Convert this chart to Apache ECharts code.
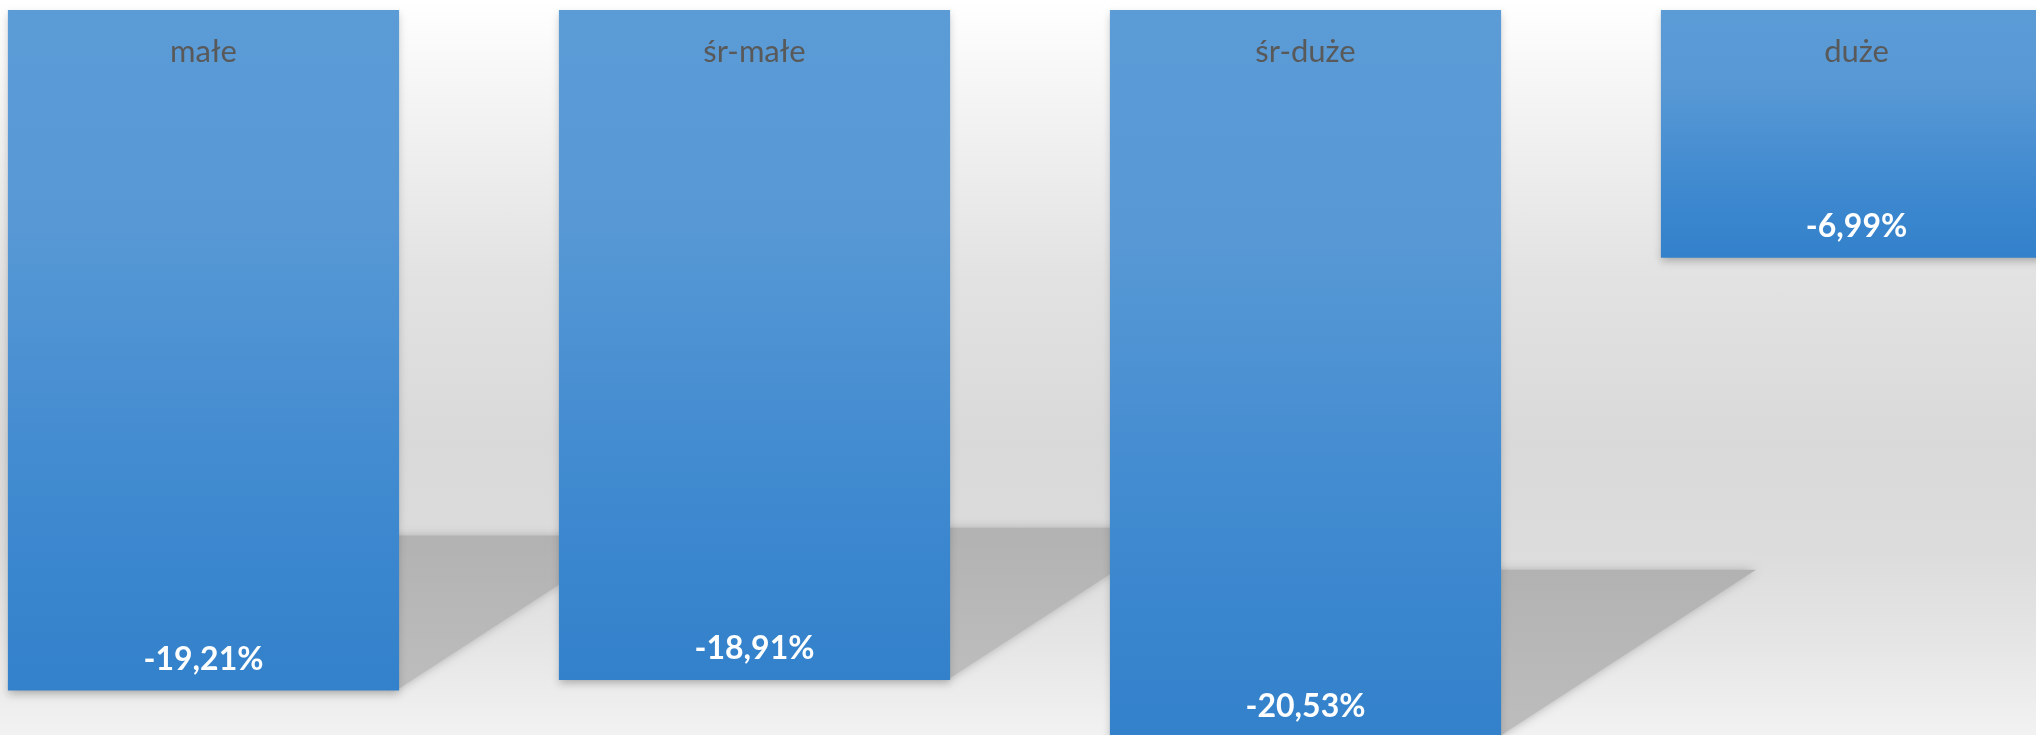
<!DOCTYPE html>
<html>
<head>
<meta charset="utf-8">
<script src="https://cdn.jsdelivr.net/npm/echarts@6/dist/echarts.min.js"></script>
<style>
  html, body { margin: 0; padding: 0; }
  body {
    position: relative;
    width: 2036px; height: 735px; overflow: hidden;
    background: linear-gradient(to bottom,
      #ffffff 0%, #f0f0f0 19%, #e2e2e2 38%, #d9d9d9 60%,
      #dcdcdc 75%, #e5e5e5 87%, #f2f2f2 100%);
  }
  /* plot area is wider than the page: outer bars are cut by the page edge */
  #chart { position: absolute; left: -72px; top: 0; width: 2204px; height: 760px; }
</style>
</head>
<body>
<div id="chart"></div>
<script>
// Company size groups and their percentage change
const categories = ['małe', 'śr-małe', 'śr-duże', 'duże'];
const changes = [-19.21, -18.91, -20.53, -6.99];

// Value-axis level of the floor's vanishing line, used for the cast shadows
const horizonValue = -3;

const chart = echarts.init(document.getElementById('chart'), null, { renderer: 'canvas' });

const fmtPct = v => v.toFixed(2).replace('.', ',') + '%';
const BAR_FRACTION = 0.71;

chart.setOption({
  backgroundColor: 'transparent',
  animation: false,
  grid: { left: 0, right: 0, top: 10, bottom: 6 },
  xAxis: {
    type: 'category',
    data: categories,
    position: 'top',
    z: 10,
    axisLine: { show: false },
    axisTick: { show: false },
    splitLine: { show: false },
    axisLabel: {
      inside: true,
      margin: 26,
      color: '#595959',
      fontFamily: 'Lato',
      fontSize: 31,
      interval: 0
    }
  },
  yAxis: {
    type: 'value',
    min: -21,
    max: 0,
    show: false,
    splitLine: { show: false }
  },
  series: [
    {
      // perspective shadows cast by the bars on the floor
      type: 'custom',
      z: 1,
      silent: true,
      data: changes.map((v, i) => [i, v]),
      renderItem: function (params, api) {
        const idx = api.value(0);
        const val = api.value(1);
        const base = api.coord([idx, 0]);
        const end = api.coord([idx, val]);
        const horizon = api.coord([idx, horizonValue]);
        const bw = api.size([1, 0])[0] * BAR_FRACTION;
        const x0 = base[0] - bw / 2;
        const x1 = x0 + bw;
        const yb = end[1];
        const dy = 0.27 * (yb - horizon[1]);
        const dx = 1.52 * dy;
        return {
          type: 'polygon',
          shape: {
            points: [[x0, yb - 2], [x1, yb - 2], [x1 + dx, yb - dy], [x0 + dx, yb - dy]]
          },
          style: {
            fill: new echarts.graphic.LinearGradient(0, 0, 0, 1, [
              { offset: 0, color: '#b2b2b2' },
              { offset: 1, color: '#bdbdbd' }
            ]),
            shadowBlur: 10,
            shadowColor: 'rgba(170,170,170,0.9)'
          }
        };
      }
    },
    {
      type: 'bar',
      z: 2,
      data: changes,
      barCategoryGap: '29%',
      itemStyle: {
        color: new echarts.graphic.LinearGradient(0, 0, 0, 1, [
          { offset: 0, color: '#5b9bd6' },
          { offset: 0.3, color: '#5899d5' },
          { offset: 0.75, color: '#3d88cf' },
          { offset: 1, color: '#3381cb' }
        ]),
        shadowBlur: 8,
        shadowOffsetY: 4,
        shadowColor: 'rgba(0,0,0,0.18)'
      },
      label: {
        show: true,
        position: 'insideBottom',
        distance: 15,
        color: '#ffffff',
        fontFamily: 'Lato',
        fontWeight: 'bold',
        fontSize: 32,
        formatter: p => fmtPct(p.value)
      }
    }
  ]
});
</script>
</body>
</html>
